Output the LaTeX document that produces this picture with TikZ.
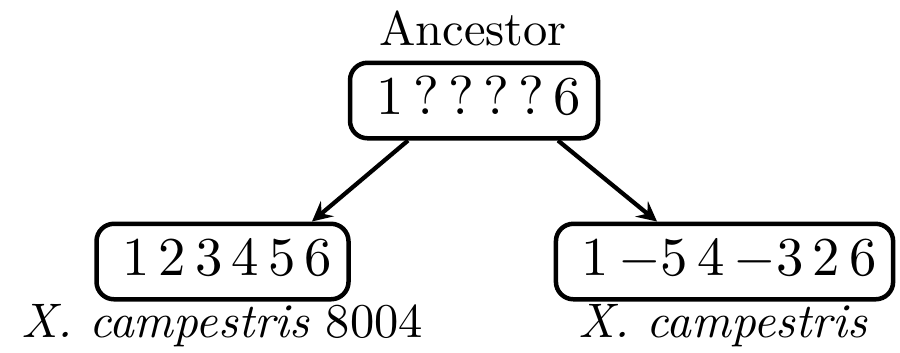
\documentclass[tikz,border=0pt]{standalone}
\usetikzlibrary{arrows.meta}
\begin{document}
\begin{tikzpicture}[x=0.2pt,y=-0.2pt,
  font=\fontsize{9.7}{11.6}\selectfont,
  genome/.style={draw,line width=0.9pt,rounded corners=3.5pt,minimum height=13.4pt,
    font=\fontsize{10.9}{13}\selectfont,
    text height=7pt,text depth=1.5pt,inner sep=3.3pt},
  evo/.style={line width=0.85pt,-{Stealth[length=4pt,width=4pt,inset=1.5pt]}}]
\useasboundingbox (0,0) rectangle (900,352);
% ancestral gene order
\node[anchor=base] (anclab) at (473,45) {Ancestor};
\node[genome,minimum width=49.6pt] (anc) at (474,100.5)
  {$\,1\,?\,?\,?\,?\,6$};
% descendant gene orders
\node[genome,minimum width=50.2pt] (left) at (222.5,261.5)
  {$\,1\,2\,3\,4\,5\,6$};
\node[genome,minimum width=67pt] (right) at (724.5,261.5)
  {$\,1\,{-}5\,4\,{-}3\,2\,6$};
% strain names
\node[anchor=base] (leftlab) at (222,337) {\textit{X. campestris} 8004};
\node[anchor=base] (rightlab) at (723,337) {\textit{X. campestris}};
% descent arrows
\draw[evo] ([xshift=-13.2pt]anc.south) -- ([xshift=17.9pt]left.north);
\draw[evo] ([xshift=16.8pt]anc.south) -- ([xshift=-13.5pt]right.north);
\end{tikzpicture}
\end{document}
